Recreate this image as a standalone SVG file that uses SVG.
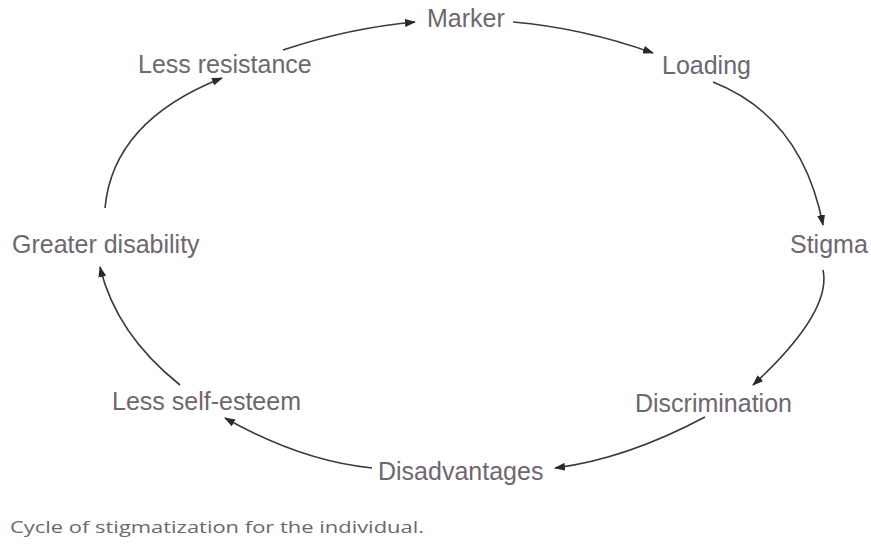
<svg xmlns="http://www.w3.org/2000/svg" width="871" height="545" viewBox="0 0 871 545">
<style>
.lbl{font-family:"Liberation Sans",Arial,sans-serif;font-size:25px;fill:#6e6670}
.cap{font-family:"Open Sans","DejaVu Sans",sans-serif;font-size:16px;fill:#6e6670}
.c{fill:none;stroke:#3a3a3a;stroke-width:1.6;marker-end:url(#ah)}
</style>
<defs>
<marker id="ah" markerWidth="11" markerHeight="8" refX="10" refY="4" orient="auto" markerUnits="userSpaceOnUse">
<path d="M0,0 L11,4 L0,8 z" fill="#2a2a2a"/>
</marker>
</defs>
<rect width="871" height="545" fill="#fff"/>
<g id="connectors">
<path class="c" d="M283,50 Q349,28 415,22"/>
<path class="c" d="M513,22 Q583,28 653,53"/>
<path class="c" d="M713,82 Q802,117 823,225"/>
<path class="c" d="M823,270 Q832,312 753,385"/>
<path class="c" d="M705,417 Q626,459 555,468"/>
<path class="c" d="M372,468 Q301,461 225,418"/>
<path class="c" d="M180,385 Q116,334 100,267"/>
<path class="c" d="M105,208 Q113,121 222,78"/>
</g>
<g id="marker"><text class="lbl" x="427" y="27">Marker</text></g>
<g id="loading"><text class="lbl" x="662" y="74">Loading</text></g>
<g id="stigma"><text class="lbl" x="790" y="253">Stigma</text></g>
<g id="discrimination"><text class="lbl" x="635" y="412">Discrimination</text></g>
<g id="disadvantages"><text class="lbl" x="378" y="480">Disadvantages</text></g>
<g id="less-self-esteem"><text class="lbl" x="112" y="410">Less self-esteem</text></g>
<g id="greater-disability"><text class="lbl" x="12" y="253">Greater disability</text></g>
<g id="less-resistance"><text class="lbl" x="138" y="73">Less resistance</text></g>
<g id="caption"><text class="cap" x="10" y="533" textLength="414" lengthAdjust="spacingAndGlyphs">Cycle of stigmatization for the individual.</text></g>
</svg>
